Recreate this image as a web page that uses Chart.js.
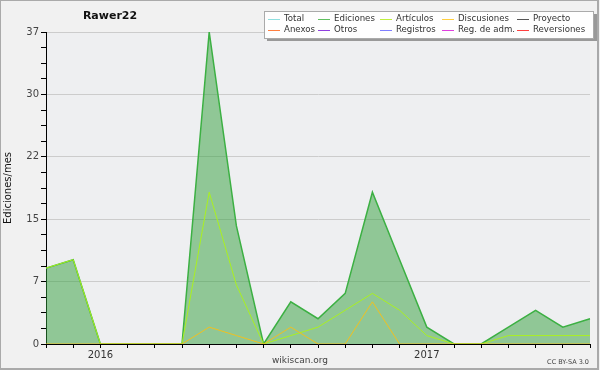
<!DOCTYPE html>
<html>
<head>
<meta charset="utf-8">
<script src="https://cdn.jsdelivr.net/npm/chart.js@4"></script>
<style>
  html, body { margin: 0; padding: 0; background: #f1f1f1; }
  #wrap { width: 600px; height: 370px; }
</style>
</head>
<body>
<div id="wrap"><canvas id="chart" width="600" height="370"></canvas></div>
<script>
// months Nov 2015 .. Jul 2017
const months = ["2015-11", "2015-12", "2016-01", "2016-02", "2016-03", "2016-04", "2016-05",
  "2016-06", "2016-07", "2016-08", "2016-09", "2016-10", "2016-11", "2016-12",
  "2017-01", "2017-02", "2017-03", "2017-04", "2017-05", "2017-06", "2017-07"];
const ediciones = [9, 10, 0, 0, 0, 0, 37, 14, 0, 5, 3, 6, 18, 10, 2, 0, 0, 2, 4, 2, 3];
const articulos = [9, 10, 0, 0, 0, 0, 18, 7, 0, 1, 2, 4, 6, 4, 1, 0, 0, 1, 1, 1, 1];
const discusiones = [0, 0, 0, 0, 0, 0, 2, 1, 0, 2, 0, 0, 5, 0, 0, 0, 0, 0, 0, 0, 0];
const yTickLabels = ["0", "7", "15", "22", "30", "37"];
const yMax = 37;

const legendNames = ["Total", "Ediciones", "Artículos", "Discusiones", "Proyecto",
  "Anexos", "Otros", "Registros", "Reg. de adm.", "Reversiones"];
const legendColors = ["#8fdfdf", "#5fbf5f", "#bfef3f", "#ffcf3f", "#555555",
  "#ff7f3f", "#8f3fdf", "#7f7fff", "#df3fdf", "#ff3f3f"];

Chart.defaults.font.family = "'DejaVu Sans', sans-serif";
Chart.defaults.font.size = 10;
Chart.defaults.color = "#333";

const seriesData = {
  "Ediciones": ediciones,
  "Artículos": articulos,
  "Discusiones": discusiones,
};

const datasets = legendNames.map(function (name, i) {
  const ds = {
    label: name,
    data: seriesData[name] || [],
    borderColor: legendColors[i],
    borderWidth: 1,
    pointRadius: 0,
    tension: 0,
    fill: false,
    order: 10 - i,
  };
  if (name === "Ediciones") {
    ds.borderColor = "#3cb043";
    ds.borderWidth = 1.5;
    ds.fill = "origin";
    ds.backgroundColor = "rgba(50,160,60,0.5)";
    ds.order = 20;
  }
  if (name === "Artículos") ds.borderColor = "#aaf020";
  if (name === "Discusiones") ds.borderColor = "#f0c020";
  return ds;
});

const decor = {
  id: "decor",
  beforeDraw(chart) {
    const ctx = chart.ctx;
    const a = chart.chartArea;
    ctx.save();
    ctx.fillStyle = "#f1f1f1";
    ctx.fillRect(0, 0, chart.width, chart.height);
    ctx.fillStyle = "#eeeff1";
    ctx.fillRect(a.left, a.top, a.right - a.left, a.bottom - a.top);
    ctx.strokeStyle = "#aaa";
    ctx.lineWidth = 2;
    ctx.strokeRect(0, 0, 598, 369);
    ctx.restore();
  },
  afterDraw(chart) {
    const ctx = chart.ctx;
    ctx.save();
    // title
    ctx.fillStyle = "#111";
    ctx.font = "bold 11px 'DejaVu Sans'";
    ctx.textAlign = "center";
    ctx.textBaseline = "middle";
    ctx.fillText("Rawer22", 110, 16);
    // footer
    ctx.fillStyle = "#444";
    ctx.font = "9px 'DejaVu Sans'";
    ctx.fillText("wikiscan.org", 300, 361);
    ctx.font = "6.5px 'DejaVu Sans'";
    ctx.textAlign = "right";
    ctx.fillText("CC BY-SA 3.0", 589, 362);
    // legend box
    ctx.fillStyle = "#999";
    ctx.fillRect(267, 14, 330, 27);
    ctx.fillStyle = "#fefefe";
    ctx.fillRect(264, 11, 329, 27);
    ctx.strokeStyle = "#aaa";
    ctx.lineWidth = 1;
    ctx.strokeRect(264.5, 11.5, 329, 27);
    const lineX = [268, 318, 380, 442, 517];
    const rowY = [19, 30];
    ctx.font = "8.6px 'DejaVu Sans'";
    ctx.textAlign = "left";
    chart.data.datasets.forEach(function (ds, i) {
      const col = i % 5, row = Math.floor(i / 5);
      const x = lineX[col], y = rowY[row];
      ctx.strokeStyle = legendColors[i];
      ctx.beginPath();
      ctx.moveTo(x, y + 0.5);
      ctx.lineTo(x + 12, y + 0.5);
      ctx.stroke();
      ctx.fillStyle = "#333";
      ctx.fillText(ds.label, x + 16, y);
    });
    ctx.restore();
  },
};

const config = {
  type: "line",
  data: { labels: months, datasets: datasets },
  options: {
    animation: false,
    responsive: false,
    layout: { padding: { top: 32, right: 10, left: 0, bottom: 0 } },
    plugins: { legend: { display: false }, tooltip: { enabled: false } },
    scales: {
      x: {
        afterFit(scale) { scale.height = 26; },
        grid: { drawOnChartArea: false, tickLength: 4, tickColor: "#000" },
        border: { color: "#000", width: 1 },
        ticks: {
          autoSkip: false,
          maxRotation: 0,
          padding: 1,
          color: "#333",
          callback(value, index) {
            const m = months[index];
            return m.slice(5) === "01" ? m.slice(0, 4) : "";
          },
        },
      },
      y: {
        min: 0,
        max: yMax,
        afterFit(scale) { scale.width = 46; },
        afterBuildTicks(scale) {
          const t = [];
          for (let i = 0; i <= 20; i++) t.push({ value: (yMax * i) / 20 });
          scale.ticks = t;
        },
        grid: {
          tickLength: 5,
          tickColor: "#000",
          color(c) { return c.index % 4 === 0 ? "#cccccc" : "rgba(0,0,0,0)"; },
        },
        border: { color: "#000", width: 1 },
        ticks: {
          padding: 2,
          color: "#444",
          callback(value, index) {
            return index % 4 === 0 ? yTickLabels[index / 4] : "";
          },
        },
        title: {
          display: true,
          text: "Ediciones/mes",
          color: "#111",
          font: { size: 10 },
          padding: { top: 2, bottom: 0 },
        },
      },
    },
  },
  plugins: [decor],
};

window.onload = function () {
  window.myChart = new Chart(document.getElementById("chart"), config);
};
</script>
</body>
</html>
